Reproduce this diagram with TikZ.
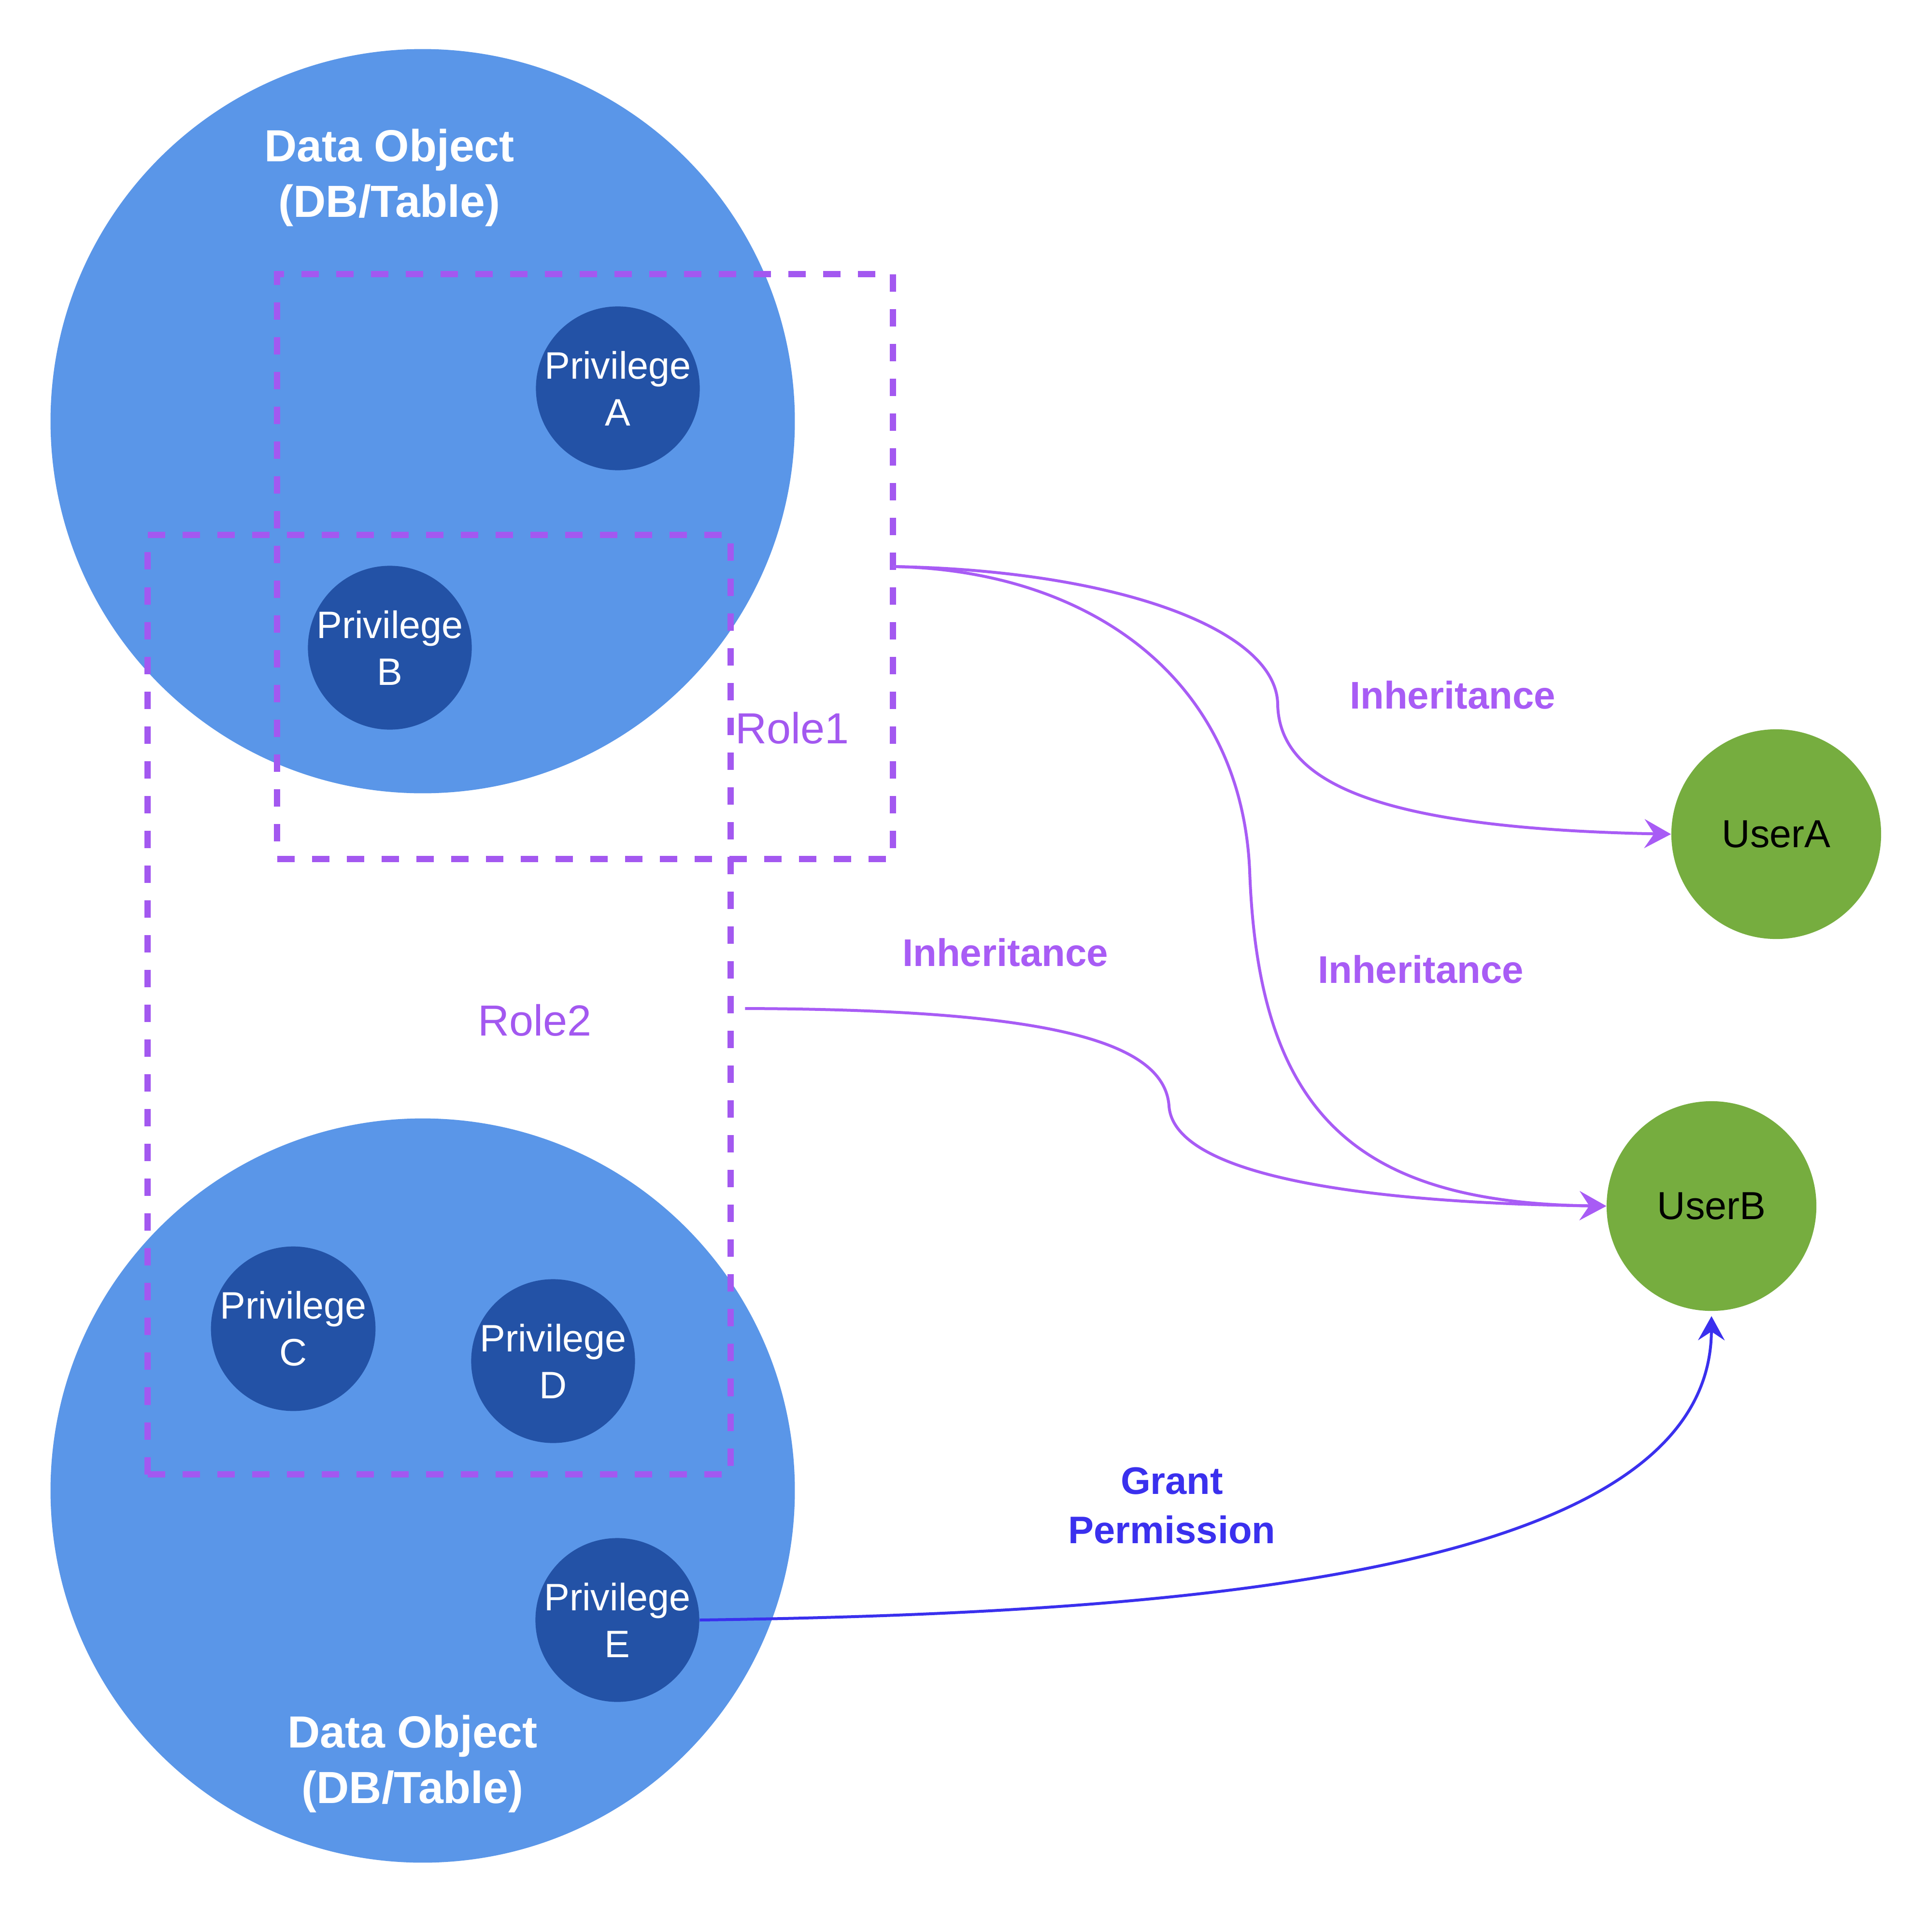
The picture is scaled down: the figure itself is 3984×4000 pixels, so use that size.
\documentclass[tikz,border=0pt]{standalone}
\usepackage{fontspec}
\setmainfont{Liberation Sans}
\usetikzlibrary{arrows.meta}
\definecolor{dobj}{RGB}{90,150,232}
\definecolor{priv}{RGB}{35,82,166}
\definecolor{role}{RGB}{163,88,240}
\definecolor{inh}{RGB}{168,92,245}
\definecolor{usr}{RGB}{118,173,63}
\definecolor{grant}{RGB}{58,48,238}
\begin{document}
\begin{tikzpicture}[x=0.01cm,y=-0.01cm,
  dataobj/.style={circle,fill=dobj,minimum size=15.4cm,inner sep=0pt},
  privnode/.style={circle,fill=priv,minimum size=3.35cm,inner sep=0pt,text=white,align=center,font=\fontsize{22.5}{27.6}\selectfont},
  usernode/.style={circle,fill=usr,minimum size=4.34cm,inner sep=0pt,text=black,font=\fontsize{23}{28}\selectfont},
  rolebox/.style={draw=role,line width=0.13cm,dash pattern=on 0.36cm off 0.36cm,inner sep=0pt,outer sep=0pt},
  dolabel/.style={text=white,align=center,font=\fontsize{26.5}{32.7}\selectfont\bfseries},
  rolelabel/.style={text=role,font=\fontsize{25.6}{30}\selectfont},
  inhlabel/.style={text=inh,font=\fontsize{22.7}{28}\selectfont\bfseries},
  grantlabel/.style={text=grant,align=center,font=\fontsize{22.6}{29}\selectfont\bfseries},
  inhedge/.style={draw=inh,line width=0.06cm,-{Stealth[length=0.55cm,width=0.6cm,inset=0.2cm]}},
  grantedge/.style={draw=grant,line width=0.06cm,-{Stealth[length=0.5cm,width=0.55cm,inset=0.18cm]}}
]
\useasboundingbox (0,0) rectangle (3984,4000);
\fill[white] (0,0) rectangle (3984,4000);

% data objects
\node[dataobj] (do1) at (875,872) {};
\node[dataobj] (do2) at (875,3086) {};
\node[dolabel] (do1t) at (806,368) {Data Object\\(DB/Table)};
\node[dolabel] (do2t) at (854,3652) {Data Object\\(DB/Table)};

% roles
\node[rolebox,minimum width=12.74cm,minimum height=12.1cm] (role1) at (1211,1173) {};
\node[rolebox,minimum width=12.06cm,minimum height=19.44cm] (role2) at (909,2080) {};
\node[rolelabel] (role1t) at (1640,1507) {Role1};
\node[rolelabel] (role2t) at (1107,2112) {Role2};

% privileges
\node[privnode] (pA) at (1279,804) {Privilege\\A};
\node[privnode] (pB) at (807,1341) {Privilege\\B};
\node[privnode] (pC) at (607,2751) {Privilege\\C};
\node[privnode] (pD) at (1145,2818) {Privilege\\D};
\node[privnode] (pE) at (1278,3354) {Privilege\\E};

% users
\node[usernode] (uA) at (3677,1727) {UserA};
\node[usernode] (uB) at (3543,2497) {UserB};

% connectors
\draw[inhedge] (role1.east) .. controls (2300,1180) and (2645,1300) .. (2645,1460)
   .. controls (2650,1620) and (2850,1715) .. (uA.west);
\draw[inhedge] (role1.east) .. controls (2250,1180) and (2570,1400) .. (2587,1804)
   .. controls (2605,2300) and (2800,2490) .. (uB.west);
\coordinate (r2out) at ([xshift=0.3cm,yshift=-0.08cm]role2.east);
\draw[inhedge] (r2out) .. controls (2150,2090) and (2410,2150) .. (2420,2290)
   .. controls (2430,2430) and (2800,2490) .. (uB.west);
\draw[grantedge] (pE.east) .. controls (2500,3340) and (3540,3250) .. ([yshift=-0.1cm]uB.south);

% labels
\node[inhlabel] (l1) at (3007,1439) {Inheritance};
\node[inhlabel] (l2) at (2081,1972) {Inheritance};
\node[inhlabel] (l3) at (2941,2007) {Inheritance};
\node[grantlabel] (l4) at (2426,3117) {Grant\\Permission};
\end{tikzpicture}
\end{document}
